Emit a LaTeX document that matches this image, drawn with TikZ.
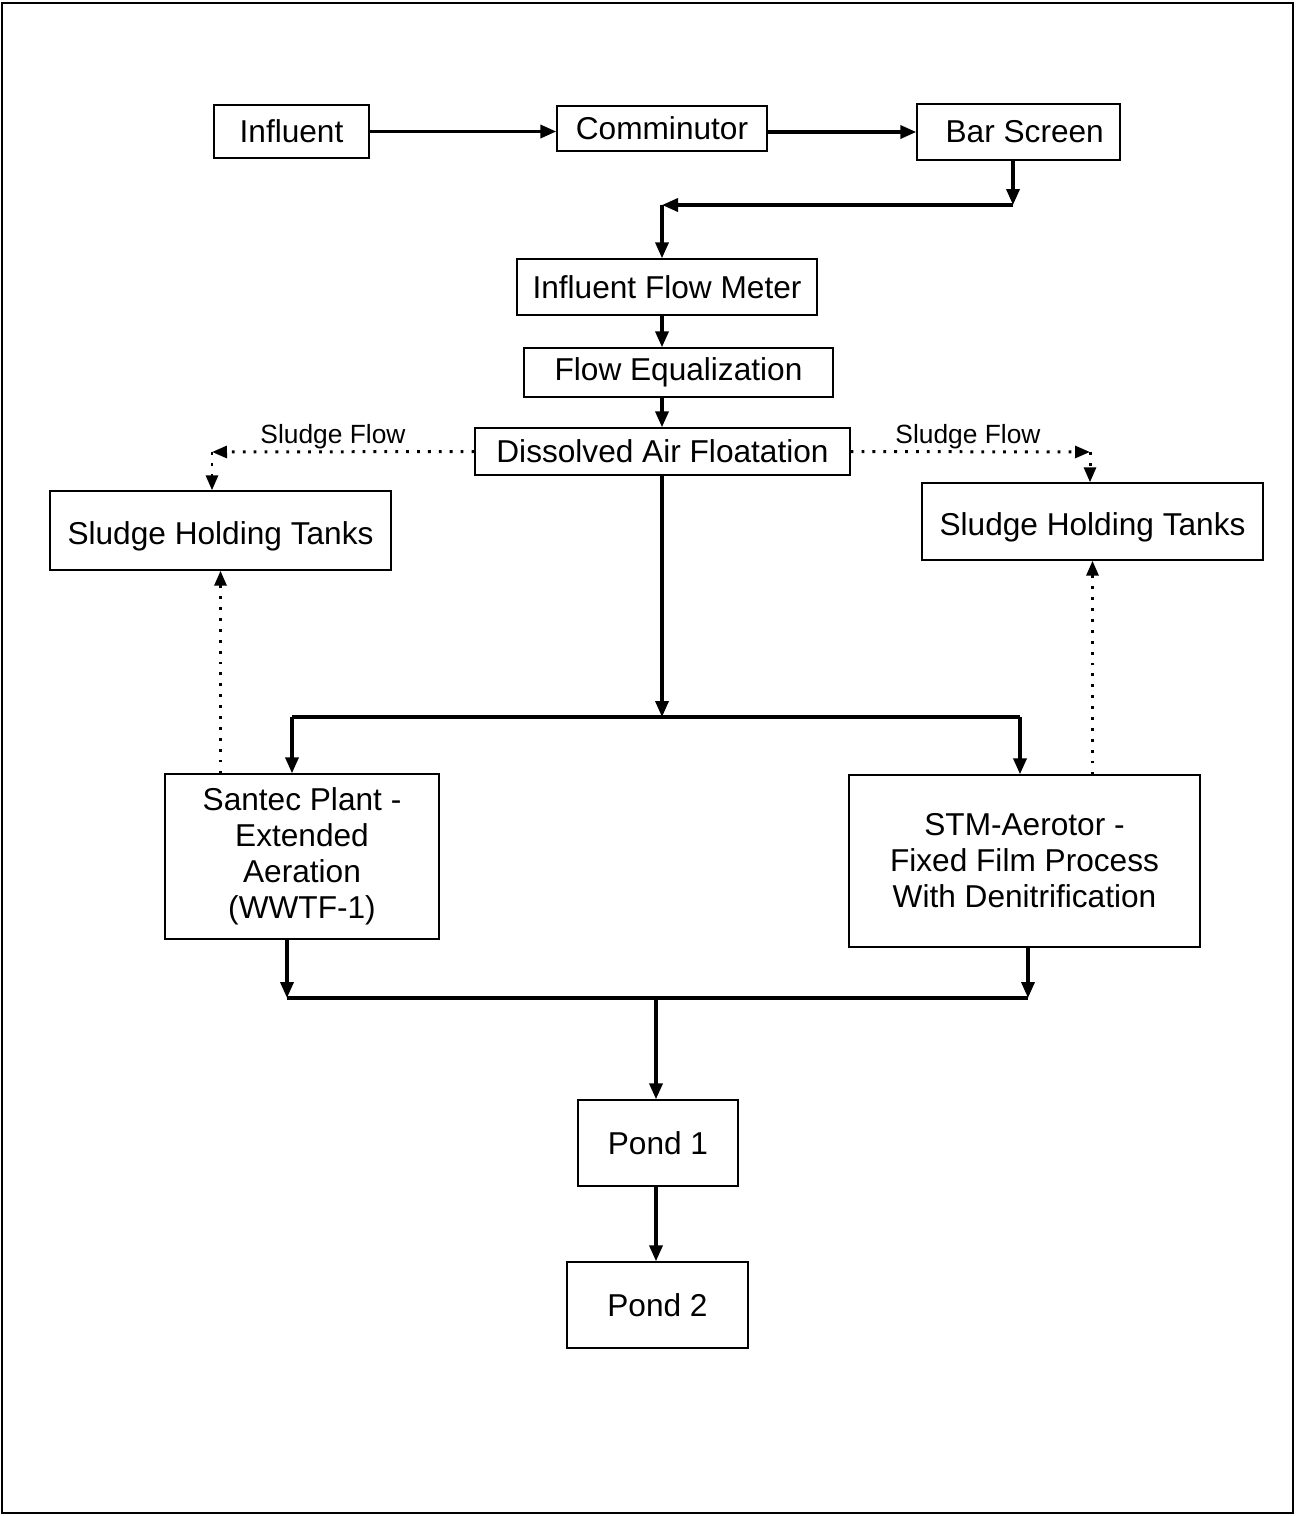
\documentclass[tikz,border=0pt]{standalone}
\usepackage{fontspec}
\setmainfont{Liberation Sans}
\usetikzlibrary{arrows.meta}

\tikzset{
  box/.style={draw, line width=0.8pt, inner sep=0pt, align=center,
    font=\fontsize{18}{20.5}\selectfont},
  flow/.style={line width=2pt, -{Triangle[length=0.32cm, width=0.26cm]}},
  line/.style={line width=2pt},
  sludge/.style={line width=1.7pt, dash pattern=on 1.6pt off 4.6pt,
    -{Triangle[length=0.3cm, width=0.24cm]}},
  lbl/.style={font=\fontsize{15}{18}\selectfont, inner sep=0pt}
}

\begin{document}
\begin{tikzpicture}[x=0.02cm, y=-0.02cm]
  \useasboundingbox (0,0) rectangle (1296,1516);
  \draw[line width=1.2pt] (2,3) rectangle (1293,1513);

  % headworks
  \node[box, minimum width=3.10cm, minimum height=1.06cm] (inf) at (291.5,131.5) {Influent};
  \node[box, minimum width=4.20cm, minimum height=0.90cm] (com) at (662,128.5) {Comminutor};
  \node[box, minimum width=4.06cm, minimum height=1.12cm] (bar) at (1018.5,132) {\hspace{0.25cm}Bar Screen};
  \node[box, minimum width=6.00cm, minimum height=1.12cm] (fm) at (667,287) {Influent Flow Meter};
  \node[box, minimum width=6.18cm, minimum height=0.98cm] (feq) at (678.5,372.5) {Flow Equalization};
  \node[box, minimum width=7.50cm, minimum height=0.94cm] (daf) at (662.5,451.5) {Dissolved Air Floatation};

  % sludge
  \node[box, minimum width=6.82cm, minimum height=1.58cm, text height=0.7cm, text depth=0.13cm]
    (shtl) at (220.5,530.5) {Sludge Holding Tanks};
  \node[box, minimum width=6.82cm, minimum height=1.54cm, text height=0.7cm, text depth=0.13cm]
    (shtr) at (1092.5,521.5) {Sludge Holding Tanks};
  \node[lbl] (sfl) at (333,437) {Sludge Flow};
  \node[lbl] (sfr) at (968,437) {Sludge Flow};

  % treatment
  \node[box, minimum width=5.48cm, minimum height=3.30cm] (san) at (302,856.5)
    {Santec Plant -\\Extended\\Aeration\\(WWTF-1)};
  \node[box, minimum width=7.02cm, minimum height=3.44cm] (stm) at (1024.5,861)
    {STM-Aerotor -\\Fixed Film Process\\With Denitrification};
  \node[box, minimum width=3.20cm, minimum height=1.72cm] (p1) at (658,1143) {Pond 1};
  \node[box, minimum width=3.62cm, minimum height=1.72cm] (p2) at (657.5,1305) {Pond 2};

  \coordinate (j1) at (1013,205);
  \coordinate (j2) at (662,205);
  \coordinate (sl) at (212,452);
  \coordinate (sr) at (1090,452);
  \coordinate (j3) at (662,717);
  \coordinate (j4) at (292,717);
  \coordinate (j5) at (1020,717);
  \coordinate (j6) at (287,998);
  \coordinate (j7) at (1028,998);
  \coordinate (j8) at (656,998);

  \draw[flow] (inf) -- (com.west |- inf);
  \draw[flow] (com.east |- bar) -- (bar.west);
  \draw[flow] (bar.south -| j1) -- (j1);
  \draw[flow] (j1) -- (j2);
  \draw[flow] (j2) -- (fm.north -| j2);
  \draw[flow] (fm.south -| j2) -- (feq.north -| j2);
  \draw[flow] (feq.south -| j2) -- (daf.north -| j2);

  \draw[sludge] (daf.west) -- (sl);
  \draw[sludge] (sl) -- (shtl.north -| sl);
  \draw[sludge] (daf.east) -- (sr);
  \draw[sludge] (sr) -- (shtr.north -| sr);

  \draw[flow] (daf.south -| j3) -- (j3);
  \draw[line] (j4) -- (j5);
  \draw[flow] (j4) -- (san.north -| j4);
  \draw[flow] (j5) -- (stm.north -| j5);
  \draw[sludge] (san.north -| shtl) -- (shtl.south);
  \draw[sludge] (stm.north -| shtr) -- (shtr.south);

  \draw[flow] (san.south -| j6) -- (j6);
  \draw[flow] (stm.south -| j7) -- (j7);
  \draw[line] (j6) -- (j7);
  \draw[flow] (j8) -- (p1.north -| j8);
  \draw[flow] (p1.south -| j8) -- (p2.north -| j8);
\end{tikzpicture}
\end{document}
